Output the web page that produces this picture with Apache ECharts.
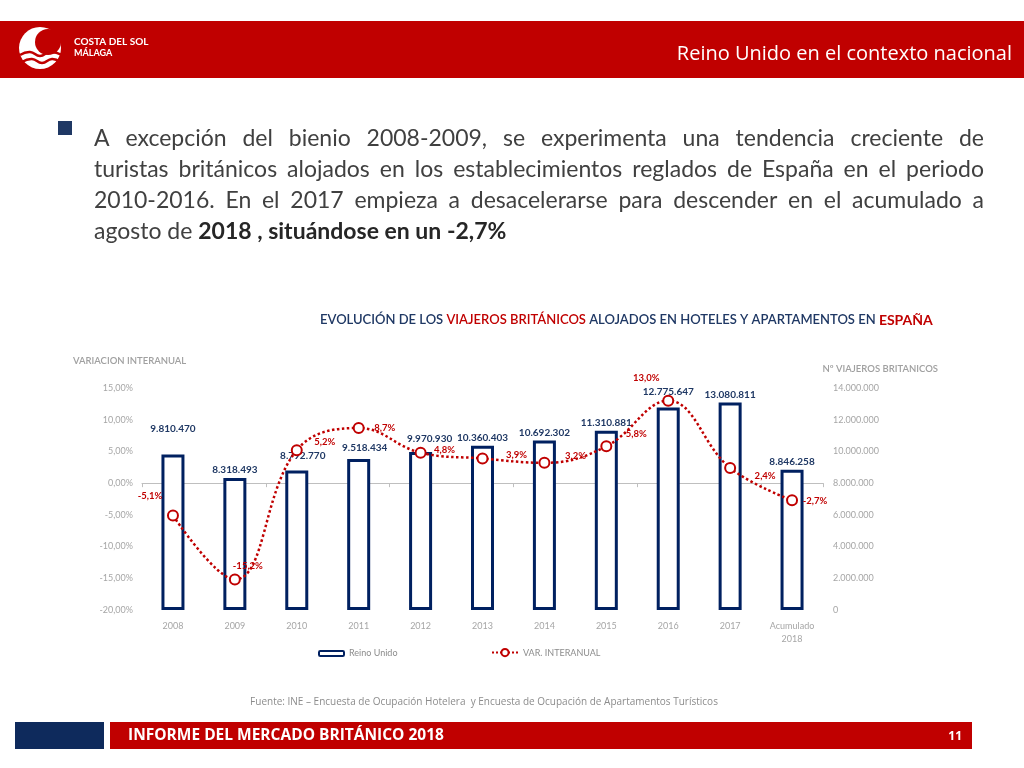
<!DOCTYPE html>
<html><head><meta charset="utf-8">
<script src="https://cdn.jsdelivr.net/npm/echarts@6/dist/echarts.min.js"></script>
<style>html,body{margin:0;padding:0;background:#fff}#c{width:1024px;height:768px}</style>
</head><body><div id="c"></div>
<script>
// ---- data ----
const categories = ['2008','2009','2010','2011','2012','2013','2014','2015','2016','2017','Acumulado\n2018'];
const travellers = [9810470, 8318493, 8792770, 9518434, 9970930, 10360403, 10692302, 11310881, 12775647, 13080811, 8846258];
const variation = [-5.1, -15.2, 5.2, 8.7, 4.8, 3.9, 3.2, 5.8, 13.0, 2.4, -2.7];
const seriesNames = ['Reino Unido', 'VAR. INTERANUAL'];
// label placement tweaks (pixels)
const barLabelOffsets = [[0,-18],[0,0],[6,-7],[6,-3],[9,-5],[0,0],[0,0],[0,0],[0,-8],[0,0],[0,0]];
const lineLabelOffsets = [[-23,-20],[13,-14],[28,-8],[26,0],[24,-3],[34,-3],[31,-7],[30,-12],[-22,-23],[35,8],[23,1]];

const NAVY = '#002060', RED = '#c00000', GRAY = '#a6a6a6';
const fmtThousands = v => String(v).replace(/\B(?=(\d{3})+(?!\d))/g, '.');
const fmtPct1 = v => v.toFixed(1).replace('.', ',') + '%';
const fmtPct2 = v => v.toFixed(2).replace('.', ',') + '%';

// ---- paragraph (justified) ----
const pFamily = 'Lato', pSize = 23;
const ctx = document.createElement('canvas').getContext('2d');
ctx.font = pSize + 'px ' + pFamily;
const paraLines = [
  'A excepción del bienio 2008-2009, se experimenta una tendencia creciente de',
  'turistas británicos alojados en los establecimientos reglados de España en el periodo',
  '2010-2016. En el 2017 empieza a desacelerarse para descender en el acumulado a'
];
const paraGraphics = [];
paraLines.forEach((line, li) => {
  const words = line.split(' ');
  const widths = words.map(w => ctx.measureText(w).width);
  const total = widths.reduce((a, b) => a + b, 0);
  const gap = (984 - 94 - total) / (words.length - 1);
  let x = 94;
  words.forEach((w, i) => {
    paraGraphics.push({type: 'text', x: x, y: 139 + li * 31,
      style: {text: w, fontSize: pSize, fontFamily: pFamily, fill: '#404040', verticalAlign: 'middle'}});
    x += widths[i] + gap;
  });
});
paraGraphics.push({type: 'text', x: 94, y: 232,
  style: {text: 'agosto de {b|2018 , situándose en un -2,7%}', fontSize: pSize, fontFamily: pFamily, fill: '#404040', verticalAlign: 'middle',
    rich: {b: {fontSize: pSize, fontFamily: pFamily, fontWeight: 'bold', fill: '#262626'}}}});

const chart = echarts.init(document.getElementById('c'));
chart.setOption({
  backgroundColor: '#fff',
  animation: false,
  grid: {left: 142, right: 201, top: 388, bottom: 158, containLabel: false},
  legend: [
    {data: [seriesNames[0]], left: 313, top: 644, itemWidth: 25, itemHeight: 5, itemGap: 2,
      textStyle: {color: '#8c8c8c', fontSize: 9, fontFamily: 'Lato'}},
    {data: [seriesNames[1]], left: 486, top: 643, itemWidth: 26, itemHeight: 9, itemGap: 2,
      textStyle: {color: '#8c8c8c', fontSize: 9, fontFamily: 'Lato'}}
  ],
  xAxis: [
    {type: 'category', data: categories, position: 'bottom', boundaryGap: true,
      axisLine: {show: false, onZero: false}, axisTick: {show: false},
      axisLabel: {color: GRAY, fontSize: 9, fontFamily: 'Lato', margin: 10, lineHeight: 13, interval: 0}},
    {type: 'category', data: categories, position: 'bottom', boundaryGap: true,
      axisLine: {show: true, onZero: true, onZeroAxisIndex: 0, lineStyle: {color: '#bfbfbf', width: 1}},
      axisTick: {show: true, length: 4, inside: false, lineStyle: {color: '#bfbfbf'}},
      axisLabel: {show: false}}
  ],
  yAxis: [
    {type: 'value', min: -20, max: 15, interval: 5, position: 'left',
      axisLine: {show: false}, axisTick: {show: false}, splitLine: {show: false},
      axisLabel: {formatter: fmtPct2, color: GRAY, fontSize: 9, fontFamily: 'Lato', margin: 9}},
    {type: 'value', min: 0, max: 14000000, interval: 2000000, position: 'right',
      axisLine: {show: false}, axisTick: {show: false}, splitLine: {show: false},
      axisLabel: {formatter: fmtThousands, color: GRAY, fontSize: 9, fontFamily: 'Lato', margin: 10}}
  ],
  series: [
    {name: seriesNames[0], type: 'bar', xAxisIndex: 0, yAxisIndex: 1, barWidth: 23,
      itemStyle: {color: '#fff', borderColor: NAVY, borderWidth: 3},
      label: {show: true, position: 'top', distance: 3, color: '#1f3864', fontSize: 10, fontWeight: 'bold', fontFamily: 'Lato',
        formatter: p => fmtThousands(p.value)},
      data: travellers.map((v, i) => ({value: v, label: {offset: barLabelOffsets[i]}})),
      z: 2},
    {name: seriesNames[1], type: 'line', xAxisIndex: 0, yAxisIndex: 0, smooth: 0.4,
      symbol: 'circle', symbolSize: 10, showAllSymbol: true,
      lineStyle: {color: RED, width: 2.5, type: 'dotted'},
      itemStyle: {color: '#fff', borderColor: RED, borderWidth: 2},
      label: {show: true, position: 'inside', color: RED, fontSize: 9.5, fontWeight: 'bold', fontFamily: 'Lato',
        formatter: p => fmtPct1(p.value)},
      data: variation.map((v, i) => ({value: v, label: {offset: lineLabelOffsets[i]}})),
      z: 5}
  ],
  graphic: [
    // header
    {type: 'rect', shape: {x: 0, y: 21, width: 1024, height: 57}, style: {fill: RED}, z: 0},
    {type: 'circle', shape: {cx: 40, cy: 48, r: 21}, style: {fill: '#fff'}},
    {type: 'circle', shape: {cx: 48, cy: 42, r: 13}, style: {fill: RED}},
    {type: 'polyline', shape: {points: [[20,55],[30,52],[40,56],[50,52],[62,55]], smooth: 0.5}, style: {stroke: RED, lineWidth: 2.5, fill: null}},
    {type: 'polyline', shape: {points: [[22,62],[32,59],[42,63],[52,59],[60,62]], smooth: 0.5}, style: {stroke: RED, lineWidth: 2.5, fill: null}},
    {type: 'text', x: 74, y: 42, style: {text: 'COSTA DEL SOL', fontSize: 10, fontWeight: 'bold', fontFamily: 'Lato', fill: '#fff', verticalAlign: 'middle'}},
    {type: 'text', x: 74, y: 53, style: {text: 'MÁLAGA', fontSize: 9, fontWeight: 'bold', fontFamily: 'Lato', fill: '#fff', verticalAlign: 'middle'}},
    {type: 'text', x: 1012, y: 54, style: {text: 'Reino Unido en el contexto nacional', fontSize: 20, fontFamily: 'Open Sans', fill: '#fff', align: 'right', verticalAlign: 'middle'}},
    // bullet
    {type: 'rect', shape: {x: 58, y: 121, width: 14, height: 14}, style: {fill: '#1f3864'}},
    ...paraGraphics,
    // chart title
    {type: 'text', x: 320, y: 320, style: {
      text: '{n|EVOLUCIÓN DE LOS }{r|VIAJEROS BRITÁNICOS}{n| ALOJADOS EN HOTELES Y APARTAMENTOS EN }{e|ESPAÑA}',
      verticalAlign: 'middle', fontFamily: 'Lato',
      rich: {n: {fontSize: 13, fontFamily: 'Lato', fontWeight: 600, fill: '#1f3864'},
             r: {fontSize: 13, fontFamily: 'Lato', fontWeight: 600, fill: RED},
             e: {fontSize: 14, fontFamily: 'Lato', fontWeight: 'bold', fill: RED}}}},
    // axis names
    {type: 'text', x: 73, y: 361, style: {text: 'VARIACION INTERANUAL', fontSize: 9.5, fontWeight: 600, fontFamily: 'Lato', fill: '#a0a0a0', verticalAlign: 'middle'}},
    {type: 'text', x: 938, y: 369, style: {text: 'Nº VIAJEROS BRITANICOS', fontSize: 9.5, fontWeight: 600, fontFamily: 'Lato', fill: '#a0a0a0', align: 'right', verticalAlign: 'middle'}},
    // source
    {type: 'text', x: 484, y: 702, style: {text: 'Fuente: INE – Encuesta de Ocupación Hotelera  y Encuesta de Ocupación de Apartamentos Turísticos', fontSize: 10, fontFamily: 'Open Sans', fill: '#8c8c8c', align: 'center', verticalAlign: 'middle'}},
    // footer
    {type: 'rect', shape: {x: 15, y: 722, width: 89, height: 27}, style: {fill: '#0e2a5c'}},
    {type: 'rect', shape: {x: 110, y: 722, width: 862, height: 27}, style: {fill: RED}},
    {type: 'text', x: 128, y: 736, style: {text: 'INFORME DEL MERCADO BRITÁNICO 2018', fontSize: 15.5, fontWeight: 'bold', fontFamily: 'Open Sans', fill: '#fff', verticalAlign: 'middle'}},
    {type: 'text', x: 962, y: 737, style: {text: '11', fontSize: 12, fontWeight: 'bold', fontFamily: 'Open Sans', fill: '#fff', align: 'right', verticalAlign: 'middle'}}
  ]
});
</script>
</body></html>
